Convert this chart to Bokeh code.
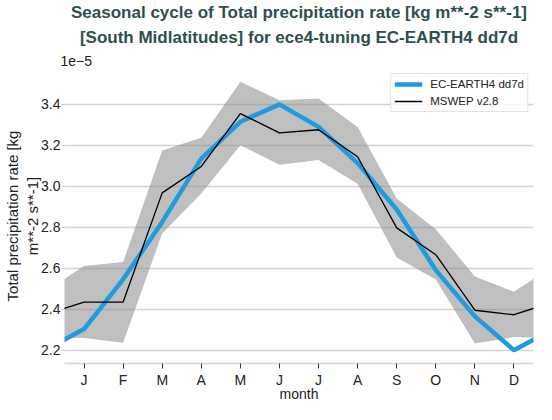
from bokeh.plotting import figure
from bokeh.models import Title, Legend, LegendItem, FixedTicker, NumeralTickFormatter
from bokeh.embed import file_html
from bokeh.resources import INLINE

# Values in units of 1e-5 kg m**-2 s**-1
months = ["J", "F", "M", "A", "M", "J", "J", "A", "S", "O", "N", "D"]
month_num = [1, 2, 3, 4, 5, 6, 7, 8, 9, 10, 11, 12]
y_ticks = [2.2, 2.4, 2.6, 2.8, 3.0, 3.2, 3.4]
ece4 = [2.303, 2.546, 2.826, 3.135, 3.315, 3.400, 3.290, 3.113, 2.887, 2.591, 2.365, 2.200]
mswep = [2.435, 2.435, 2.968, 3.097, 3.355, 3.261, 3.276, 3.144, 2.797, 2.666, 2.395, 2.373]
mswep_hi = [2.611, 2.630, 3.175, 3.237, 3.510, 3.420, 3.428, 3.290, 2.940, 2.790, 2.560, 2.485]
mswep_lo = [2.259, 2.236, 2.770, 2.965, 3.200, 3.105, 3.128, 3.012, 2.653, 2.545, 2.233, 2.264]

# cyclic closure: December before January, January after December
def cyc(v):
    return [v[-1]] + list(v) + [v[0]]

xs = [month_num[0] - 1] + month_num + [month_num[-1] + 1]

FONT = "Liberation Sans"
Y0, Y1 = 2.135, 3.575

p = figure(width=536, height=404, output_backend="svg", toolbar_location=None,
           x_range=(0.5, 12.5), y_range=(Y0, Y1), title_location=None,
           min_border_left=60, min_border_right=3, min_border_top=0, min_border_bottom=0)
p.outline_line_color = None
p.background_fill_color = "white"

band_x = xs + xs[::-1]
band_y = cyc(mswep_hi) + cyc(mswep_lo)[::-1]
p.patch(band_x, band_y, fill_color="gray", fill_alpha=0.5, line_color=None)
r1 = p.line(xs, cyc(ece4), line_color="#1f9be0", line_width=4.5)
r2 = p.line(xs, cyc(mswep), line_color="black", line_width=1.3)

# grid
p.xgrid.grid_line_color = None
p.ygrid.grid_line_color = "#d4d4d4"
p.ygrid.grid_line_width = 1.5
p.ygrid.ticker = FixedTicker(ticks=y_ticks)

# x axis
p.xaxis.ticker = FixedTicker(ticks=month_num)
p.xaxis.major_label_overrides = {m: lab for m, lab in zip(month_num, months)}
p.xaxis.axis_line_color = "#d4d4d4"
p.xaxis.axis_line_width = 1.5
p.xaxis.major_tick_line_color = "#333333"
p.xaxis.major_tick_in = 0
p.xaxis.major_tick_out = 5
p.xaxis.minor_tick_line_color = None
p.xaxis.major_label_text_font = FONT
p.xaxis.major_label_text_font_size = "14px"
p.xaxis.major_label_text_color = "#222222"
p.xaxis.major_label_standoff = 3
p.xaxis.axis_label = "month"
p.xaxis.axis_label_text_font = FONT
p.xaxis.axis_label_text_font_size = "14px"
p.xaxis.axis_label_text_font_style = "normal"
p.xaxis.axis_label_text_color = "#222222"
p.xaxis.axis_label_standoff = -5

# y axis
p.yaxis.ticker = FixedTicker(ticks=y_ticks)
p.yaxis.formatter = NumeralTickFormatter(format="0.0")
p.yaxis.axis_line_color = None
p.yaxis.major_tick_line_color = "#cccccc"
p.yaxis.major_tick_in = 0
p.yaxis.major_tick_out = 3
p.yaxis.minor_tick_line_color = None
p.yaxis.major_label_text_font = FONT
p.yaxis.major_label_text_font_size = "14px"
p.yaxis.major_label_text_color = "#222222"
p.yaxis.major_label_standoff = 1
p.yaxis.axis_label = "Total precipitation rate [kg\nm**-2 s**-1]"
p.yaxis.axis_label_text_font = FONT
p.yaxis.axis_label_text_font_size = "15px"
p.yaxis.axis_label_text_font_style = "normal"
p.yaxis.axis_label_text_color = "#222222"
p.yaxis.axis_label_standoff = -3

# header (first added is closest to frame)
p.add_layout(Title(text="1e\u22125", align="left", offset=-4, text_font=FONT, text_font_size="14px",
                   text_font_style="normal", text_color="#222222", standoff=6), "above")
p.add_layout(Title(text="[South Midlatitudes] for ece4-tuning EC-EARTH4 dd7d", align="center",
                   offset=-16, text_font=FONT, text_font_size="17px", text_font_style="bold",
                   text_color="#2f4f4f", standoff=8), "above")
p.add_layout(Title(text="Seasonal cycle of Total precipitation rate [kg m**-2 s**-1]", align="center",
                   offset=-16, text_font=FONT, text_font_size="17px", text_font_style="bold",
                   text_color="#2f4f4f", standoff=0), "above")

legend = Legend(items=[LegendItem(label="EC-EARTH4 dd7d", renderers=[r1]),
                       LegendItem(label="MSWEP v2.8", renderers=[r2])],
                location="top_right")
legend.label_text_font = FONT
legend.label_text_font_size = "11.5px"
legend.label_text_color = "#222222"
legend.border_line_color = "#cccccc"
legend.border_line_width = 1
legend.background_fill_alpha = 0.85
legend.margin = 5
legend.padding = 3
legend.spacing = 3
legend.glyph_width = 28
legend.glyph_height = 14
legend.label_height = 14
legend.label_standoff = 8
p.add_layout(legend, "center")

open("out.html", "w").write(file_html(p, INLINE))
